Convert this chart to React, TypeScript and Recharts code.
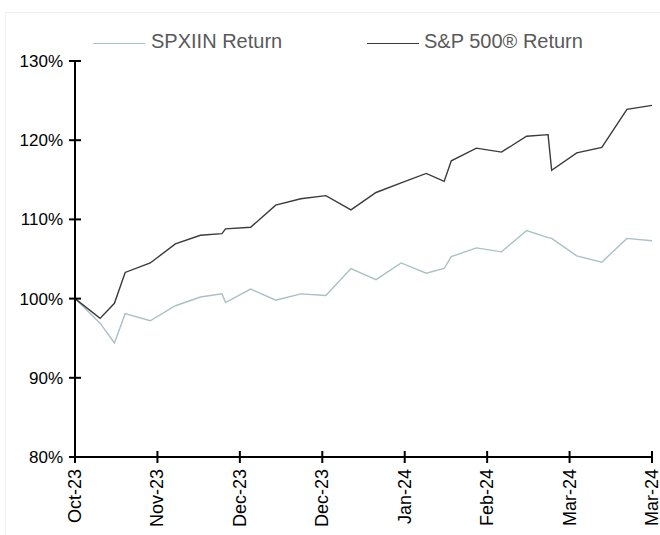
import * as React from 'react';
import { LineChart, Line, XAxis, YAxis, Legend } from 'recharts';

// days since the first observation
const days = [0, 7, 11, 14, 21, 28, 35, 41, 42, 49, 56, 63, 70, 77, 84, 91, 98, 103, 105, 112, 119, 126, 132, 133, 140, 147, 154, 161];
const spxiin = [100.0, 96.9, 94.4, 98.1, 97.2, 99.1, 100.2, 100.6, 99.5, 101.2, 99.8, 100.6, 100.4, 103.8, 102.4, 104.5, 103.2, 103.8, 105.3, 106.4, 105.9, 108.6, 107.7, 107.6, 105.4, 104.6, 107.6, 107.3];
const sp500 = [100.0, 97.5, 99.4, 103.3, 104.5, 106.9, 108.0, 108.2, 108.8, 109.0, 111.8, 112.6, 113.0, 111.2, 113.4, 114.6, 115.8, 114.8, 117.4, 119.0, 118.5, 120.5, 120.7, 116.2, 118.4, 119.1, 123.9, 124.4];

const xTicks = [0, 23, 46, 69, 92, 115, 138, 161];
const xLabels = ['Oct-23', 'Nov-23', 'Dec-23', 'Dec-23', 'Jan-24', 'Feb-24', 'Mar-24', 'Mar-24'];
const yTicks = [80, 90, 100, 110, 120, 130];

const GREY = '#a9c1c3';
const DARK = '#3a3a3a';
const FONT = '"Liberation Sans", Arial, sans-serif';

const data = days.map((d, i) => ({ day: d, spxiin: spxiin[i], sp500: sp500[i] }));

const YTick = (props: any) => {
  const { x, y, payload } = props;
  return (
    <g>
      <line x1={x - 6} x2={x + 6} y1={y} y2={y} stroke="#000" strokeWidth={2} />
      <text x={x - 12} y={y} dy={6} textAnchor="end" fontSize={17} fontFamily={FONT} fill="#000">
        {payload.value}%
      </text>
    </g>
  );
};

const XTick = (props: any) => {
  const { x, y, payload } = props;
  const idx = xTicks.indexOf(payload.value);
  return (
    <g>
      <line x1={x} x2={x} y1={y - 6} y2={y + 6} stroke="#000" strokeWidth={2} />
      <text
        transform={`translate(${x + 6},${y + 12}) rotate(-90)`}
        textAnchor="end"
        fontSize={18}
        fontFamily={FONT}
        fill="#000"
      >
        {xLabels[idx]}
      </text>
    </g>
  );
};

const renderLegend = () => (
  <div style={{ position: 'relative', width: 660, height: 30, fontFamily: FONT, fontSize: 20, color: '#595959' }}>
    <div style={{ position: 'absolute', left: 93, top: 13, width: 52, borderTop: `1px solid ${GREY}` }} />
    <span style={{ position: 'absolute', left: 151, top: 0 }}>SPXIIN Return</span>
    <div style={{ position: 'absolute', left: 367, top: 13, width: 52, borderTop: `1px solid ${DARK}` }} />
    <span style={{ position: 'absolute', left: 424, top: 0 }}>S&amp;P 500® Return</span>
  </div>
);

export default function App() {
  return (
    <div style={{ position: 'absolute', left: 0, top: 0, width: 660, height: 535, overflow: 'hidden', background: '#fff' }}>
      <div style={{ position: 'absolute', left: 5, top: 12, width: 700, height: 600, border: '1px solid #f0f0f0' }} />
      <LineChart width={660} height={535} data={data} margin={{ top: 61, right: 8, bottom: 0, left: 0 }}>
        <XAxis
          dataKey="day"
          type="number"
          domain={[0, 161]}
          ticks={xTicks}
          interval={0}
          height={78}
          tickSize={0}
          tickMargin={0}
          tickLine={false}
          axisLine={{ stroke: '#000', strokeWidth: 2 }}
          tick={<XTick />}
        />
        <YAxis
          type="number"
          domain={[80, 130]}
          ticks={yTicks}
          width={75}
          tickSize={0}
          tickMargin={0}
          tickLine={false}
          axisLine={{ stroke: '#000', strokeWidth: 2 }}
          tick={<YTick />}
        />
        <Legend
          layout="horizontal"
          verticalAlign="middle"
          align="center"
          content={renderLegend}
          wrapperStyle={{ top: 30, left: 0, width: 660, height: 30 }}
        />
        <Line
          type="linear"
          dataKey="spxiin"
          stroke={GREY}
          strokeWidth={1.4}
          dot={false}
          isAnimationActive={false}
        />
        <Line
          type="linear"
          dataKey="sp500"
          stroke={DARK}
          strokeWidth={1.4}
          dot={false}
          isAnimationActive={false}
        />
      </LineChart>
    </div>
  );
}
